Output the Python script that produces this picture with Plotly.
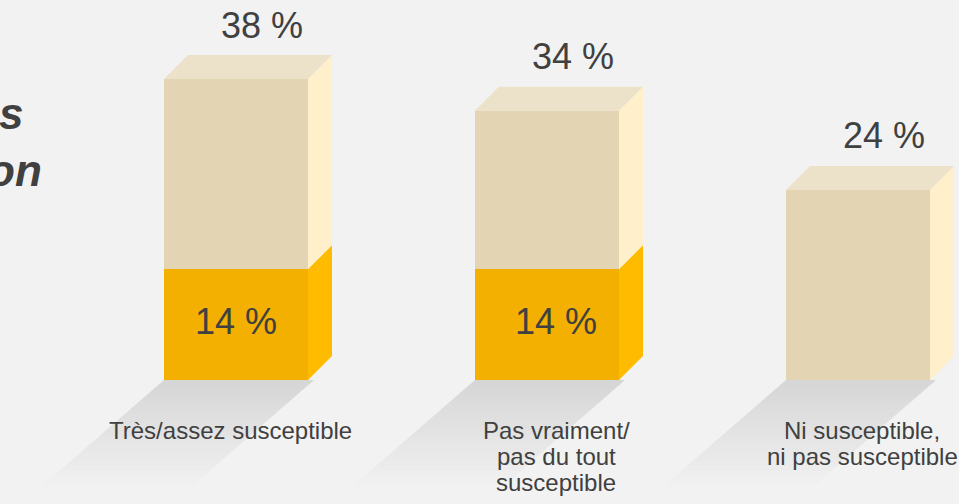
import plotly.graph_objects as go

# ---- data -------------------------------------------------------------
categories = [
    ["Très/assez susceptible"],
    ["Pas vraiment/", "pas du tout", "susceptible"],
    ["Ni susceptible,", "ni pas susceptible"],
]
total_pct = [38, 34, 24]       # full bar height (%)
strong_pct = [14, 14, 0]       # highlighted lower block (%)
title_tail = ["s", "on"]       # end of the heading lines, cut by the left edge

# ---- geometry (pixels -> axis units) ---------------------------------
W, H = 959, 504
PX_PER_CAT = 311.0
PX_PER_PCT = 7.92
BASE_ROW = 380.0
FIRST_CENTER = 236.0

half_w = 72 / PX_PER_CAT
dep_x = 24 / PX_PER_CAT
dep_y = 24 / PX_PER_PCT

BG = "#f2f2f2"
TXT = "#404040"
FONT = "Liberation Sans, Arial, sans-serif"

fig = go.Figure()


def poly(xs, ys, color):
    fig.add_trace(go.Scatter(
        x=list(xs) + [xs[0]], y=list(ys) + [ys[0]],
        mode="lines", fill="toself", fillcolor=color,
        line=dict(width=0, color=color),
        hoverinfo="skip", showlegend=False,
    ))


# ---- floor shadows (soft gradient, sheared toward the lower left) -----
n_strips = 26
sh_depth_px = 112.0
shear = 1.15
for i, t in enumerate(total_pct):
    c = i
    L, R = c - half_w, c + half_w + 6 / PX_PER_CAT
    for k in range(n_strips):
        p0 = sh_depth_px * k / n_strips
        p1 = sh_depth_px * (k + 1) / n_strips + 0.6
        f = k / (n_strips - 1)
        g = int(round(214 + (242 - 214) * f))
        col = f"rgb({g},{g},{g})"
        y0, y1 = -p0 / PX_PER_PCT, -p1 / PX_PER_PCT
        s0, s1 = shear * p0 / PX_PER_CAT, shear * p1 / PX_PER_CAT
        poly([L - s0, R - s0, R - s1, L - s1], [y0, y0, y1, y1], col)

# ---- bars as boxes ------------------------------------------------------
for i, (t, s) in enumerate(zip(total_pct, strong_pct)):
    c = i
    L, R = c - half_w, c + half_w
    if s > 0:
        poly([L, R, R, L], [0, 0, s, s], "#f3b000")
        poly([R, R + dep_x, R + dep_x, R], [0, dep_y, s + dep_y, s], "#ffbb00")
    poly([L, R, R, L], [s, s, t, t], "#e3d5b4")
    poly([R, R + dep_x, R + dep_x, R], [s, s + dep_y, t + dep_y, t], "#fff0cb")
    poly([L, R, R + dep_x, L + dep_x], [t, t, t + dep_y, t + dep_y], "#ece1c9")

annotations = []

# total value above each box
for i, t in enumerate(total_pct):
    annotations.append(dict(
        x=i + dep_x, y=t + dep_y, xref="x", yref="y",
        text=f"{t} %", showarrow=False, yanchor="middle", xanchor="center",
        xshift=2, yshift=30, font=dict(family=FONT, size=36, color=TXT),
    ))

# highlighted value inside the lower block
inner_shift = [0, 9, 0]
for i, s in enumerate(strong_pct):
    if s > 0:
        annotations.append(dict(
            x=i, y=s / 2, xref="x", yref="y", text=f"{s} %",
            showarrow=False, xshift=inner_shift[i], yshift=3, yanchor="middle",
            font=dict(family=FONT, size=36, color=TXT),
        ))

# category names under each box, one line at a time
label_shift = [-6, 9, 4]
for i, lines in enumerate(categories):
    for k, line in enumerate(lines):
        annotations.append(dict(
            x=i, y=0, xref="x", yref="y", text=line, showarrow=False,
            xshift=label_shift[i], yshift=-(50 + 26 * k), yanchor="middle",
            font=dict(family=FONT, size=24, color=TXT),
        ))

# heading tail on the left
for k, part in enumerate(title_tail):
    annotations.append(dict(
        x=[25, 44][k] / W, y=1 - [114, 170][k] / H, xref="paper", yref="paper",
        text=f"<b><i>{part}</i></b>", showarrow=False,
        xanchor="right", yanchor="middle",
        font=dict(family=FONT, size=44, color=TXT),
    ))

fig.update_layout(
    width=W, height=H, autosize=False,
    margin=dict(l=0, r=0, t=0, b=0, pad=0),
    paper_bgcolor=BG, plot_bgcolor=BG,
    xaxis=dict(range=[-FIRST_CENTER / PX_PER_CAT, (W - FIRST_CENTER) / PX_PER_CAT],
               visible=False, fixedrange=True),
    yaxis=dict(range=[-(H - BASE_ROW) / PX_PER_PCT, BASE_ROW / PX_PER_PCT],
               visible=False, fixedrange=True),
    annotations=annotations,
    showlegend=False,
)

fig.write_html("out.html")
